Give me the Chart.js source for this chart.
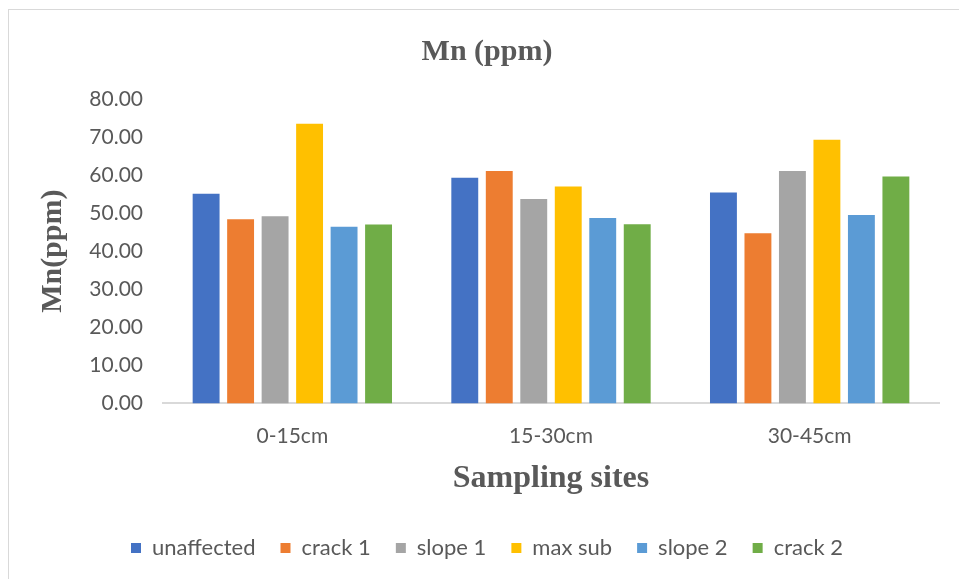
<!DOCTYPE html>
<html>
<head>
<meta charset="utf-8">
<script src="https://cdn.jsdelivr.net/npm/chart.js@4/dist/chart.umd.min.js"></script>
<style>
  html, body { margin: 0; padding: 0; background: #ffffff; overflow: hidden; }
  #frame {
    position: absolute; left: 8px; top: 9px;
    width: 960px; height: 580px;
    border: 1px solid #d9d9d9; background: #ffffff;
  }
  #wrap { position: absolute; left: 0; top: 0; width: 950px; height: 569px; }
</style>
</head>
<body>
<div id="frame"><div id="wrap"><canvas id="chart"></canvas></div></div>
<script>
// Sampling depths
const categories = ['0-15cm', '15-30cm', '30-45cm'];

// Mn concentration (ppm) per site
const unaffected = [55.1, 59.3, 55.4];
const crack1     = [48.4, 61.1, 44.7];
const slope1     = [49.2, 53.7, 61.1];
const maxSub     = [73.5, 57.0, 69.3];
const slope2     = [46.4, 48.7, 49.5];
const crack2     = [47.0, 47.1, 59.6];

const seriesNames = ['unaffected', 'crack 1', 'slope 1', 'max sub', 'slope 2', 'crack 2'];
const seriesData = [unaffected, crack1, slope1, maxSub, slope2, crack2];
const seriesColors = ['#4472C4', '#ED7D31', '#A5A5A5', '#FFC000', '#5B9BD5', '#70AD47'];

const textColor = '#595959';
const sans = 'Lato, "Open Sans", sans-serif';
const serif = '"Liberation Serif", "Times New Roman", serif';

new Chart(document.getElementById('chart'), {
  type: 'bar',
  data: {
    labels: categories,
    datasets: seriesNames.map((name, i) => ({
      label: name,
      data: seriesData[i],
      backgroundColor: seriesColors[i],
      borderWidth: 0,
      categoryPercentage: 0.8,
      barPercentage: 0.78
    }))
  },
  options: {
    responsive: true,
    maintainAspectRatio: false,
    animation: false,
    layout: { padding: { left: 26, right: 20, top: 0, bottom: 10 } },
    plugins: {
      title: {
        display: true,
        text: 'Mn (ppm)',
        color: textColor,
        font: { family: serif, size: 30, weight: 'bold', lineHeight: 1.2 },
        padding: { top: 24, bottom: 29 }
      },
      legend: {
        position: 'bottom',
        labels: {
          color: textColor,
          font: { family: sans, size: 22 },
          boxWidth: 10,
          boxHeight: 10,
          padding: 25
        }
      },
      tooltip: { enabled: false }
    },
    scales: {
      x: {
        grid: { display: false, drawTicks: false },
        border: { display: true, color: '#d9d9d9', width: 2 },
        ticks: { color: textColor, font: { family: sans, size: 21 }, padding: 20 },
        title: {
          display: true,
          text: 'Sampling sites',
          color: textColor,
          font: { family: serif, size: 32, weight: 'bold', lineHeight: 1.2 },
          padding: { top: -9, bottom: 14 }
        }
      },
      y: {
        min: 0,
        max: 80,
        grid: { display: false, drawTicks: false },
        border: { display: false },
        ticks: {
          stepSize: 10,
          color: textColor,
          font: { family: sans, size: 21 },
          padding: 20,
          callback: (v) => Number(v).toFixed(2)
        },
        title: {
          display: true,
          text: 'Mn(ppm)',
          color: textColor,
          font: { family: serif, size: 30, weight: 'bold', lineHeight: 1.2 },
          padding: 0
        },
        afterFit: (scale) => { scale.width = 128; }
      }
    }
  }
});
</script>
</body>
</html>
